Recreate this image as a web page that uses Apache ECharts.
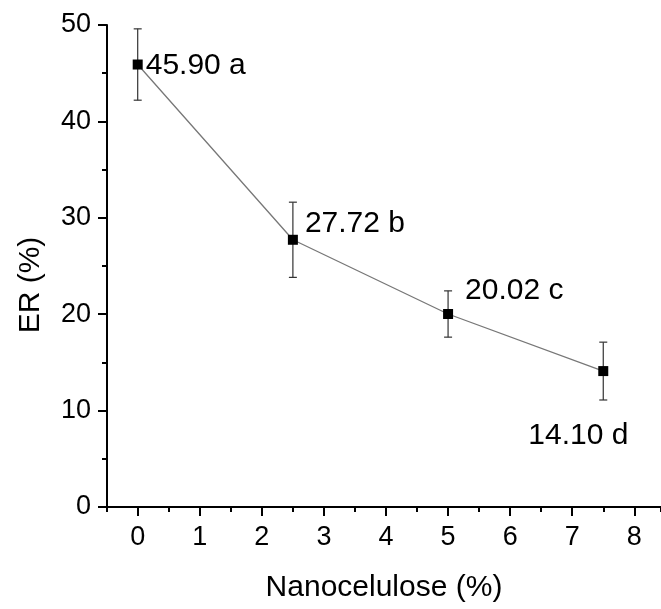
<!DOCTYPE html>
<html>
<head>
<meta charset="utf-8">
<script src="https://cdn.jsdelivr.net/npm/echarts@6/dist/echarts.min.js"></script>
<style>
  html, body { margin: 0; padding: 0; background: #fff; }
  #chart { width: 661px; height: 609px; }
</style>
</head>
<body>
<div id="chart"></div>
<script>
// Nanocellulose content (%) and expansion ratio ER (%)
const nanocelulose = [0, 2.5, 5, 7.5];
const erMean = [45.90, 27.72, 20.02, 14.10];
const erError = [3.7, 3.9, 2.4, 3.0];
const groupLetters = ['a', 'b', 'c', 'd'];

const FONT = 'Liberation Sans, Arial, sans-serif';
const TICK_FS = 27;
const TEXT_FS = 30;
const BLACK = '#000';

// where each value label sits relative to its point (px)
const labelOffsets = [[8, 1], [12, -16], [17, -23], [-75, 65]];

const points = nanocelulose.map((x, i) => ({
  value: [x, erMean[i]],
  label: {
    show: true,
    position: [5 + labelOffsets[i][0], 5 + labelOffsets[i][1]],
    align: 'left',
    verticalAlign: 'middle',
    formatter: erMean[i].toFixed(2) + ' ' + groupLetters[i]
  }
}));

const errData = nanocelulose.map((x, i) => [x, erMean[i] - erError[i], erMean[i] + erError[i]]);

const axisStroke = { color: BLACK, width: 2 };

const chart = echarts.init(document.getElementById('chart'));
chart.setOption({
  animation: false,
  grid: [
    // plotting area spanning x = 0 .. 8
    { left: 137.7, right: 26.7, top: 25, bottom: 102, containLabel: false },
    // full frame spanning x = -0.5 .. 8.5 (carries the bottom axis line)
    { left: 107, right: -5, top: 25, bottom: 102, containLabel: false }
  ],
  xAxis: [
    {
      gridIndex: 0,
      type: 'value',
      min: 0, max: 8, interval: 1,
      axisLine: { show: false, onZero: false },
      axisTick: { show: true, length: 9, lineStyle: axisStroke },
      minorTick: { show: true, splitNumber: 2, length: 5, lineStyle: axisStroke },
      axisLabel: { fontFamily: FONT, fontSize: TICK_FS, color: BLACK, margin: 17 },
      splitLine: { show: false }
    },
    {
      gridIndex: 1,
      type: 'value',
      min: -0.5, max: 8.5, interval: 9,
      name: 'Nanocelulose (%)',
      nameLocation: 'middle',
      nameGap: 66,
      nameTextStyle: { fontFamily: FONT, fontSize: TEXT_FS, color: BLACK },
      axisLine: { show: true, onZero: false, lineStyle: axisStroke },
      axisTick: { show: true, length: 5, lineStyle: axisStroke },
      axisLabel: { show: false },
      splitLine: { show: false }
    }
  ],
  yAxis: [
    {
      gridIndex: 0,
      type: 'value',
      min: 0, max: 50, interval: 10,
      offset: 30.7,
      name: 'ER (%)',
      nameLocation: 'middle',
      nameGap: 61,
      nameRotate: 90,
      nameTextStyle: { fontFamily: FONT, fontSize: TEXT_FS, color: BLACK, padding: [0, 38, 0, 0] },
      axisLine: { show: true, onZero: false, lineStyle: axisStroke },
      axisTick: { show: true, length: 9, lineStyle: axisStroke },
      minorTick: { show: true, splitNumber: 2, length: 5, lineStyle: axisStroke },
      axisLabel: { fontFamily: FONT, fontSize: TICK_FS, color: BLACK, margin: 16 },
      splitLine: { show: false }
    },
    {
      gridIndex: 1,
      type: 'value',
      min: 0, max: 50,
      show: false
    }
  ],
  series: [
    {
      type: 'custom',
      xAxisIndex: 0,
      yAxisIndex: 0,
      data: errData,
      z: 2,
      clip: false,
      renderItem: function (params, api) {
        const x = api.value(0);
        const lo = api.coord([x, api.value(1)]);
        const hi = api.coord([x, api.value(2)]);
        const cap = 4;
        const st = { stroke: '#333', lineWidth: 1.2 };
        return {
          type: 'group',
          children: [
            { type: 'line', shape: { x1: hi[0], y1: hi[1], x2: lo[0], y2: lo[1] }, style: st },
            { type: 'line', shape: { x1: hi[0] - cap, y1: hi[1], x2: hi[0] + cap, y2: hi[1] }, style: st },
            { type: 'line', shape: { x1: lo[0] - cap, y1: lo[1], x2: lo[0] + cap, y2: lo[1] }, style: st }
          ]
        };
      }
    },
    {
      type: 'line',
      xAxisIndex: 0,
      yAxisIndex: 0,
      data: points,
      z: 3,
      clip: false,
      symbol: 'rect',
      symbolSize: 10,
      itemStyle: { color: BLACK },
      lineStyle: { color: '#777', width: 1.3 },
      label: { fontFamily: FONT, fontSize: TEXT_FS, color: BLACK }
    }
  ]
});
</script>
</body>
</html>
